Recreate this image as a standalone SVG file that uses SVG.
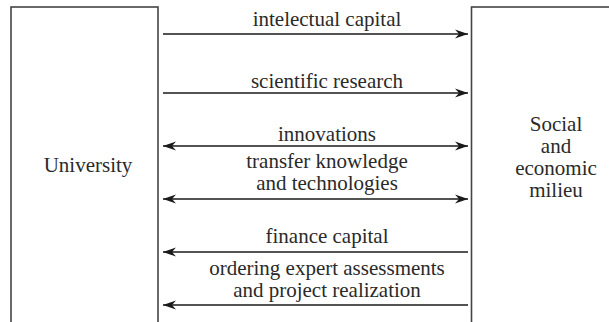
<svg xmlns="http://www.w3.org/2000/svg" width="609" height="322" viewBox="0 0 609 322">
<style>
.box{fill:#fff;stroke:#444;stroke-width:1.6}
.t{font-family:'Liberation Serif','DejaVu Serif','Times New Roman',serif;font-size:21px;fill:#2a2a2a;text-anchor:middle}
.c{stroke:#1a1a1a;stroke-width:1.3;fill:none}
</style>
<defs>
<marker id="ah" markerUnits="userSpaceOnUse" markerWidth="16" markerHeight="12" viewBox="-14 -6 16 12" refX="0" refY="0" orient="auto-start-reverse">
<path d="M0,0 L-13,-4.6 L-9,0 L-13,4.6 Z" fill="#1a1a1a"/>
</marker>
</defs>
<rect width="609" height="322" fill="#fff"/>
<g id="university">
<rect class="box" x="11" y="7" width="147" height="330"/>
<text class="t" x="88" y="172" font-family="Liberation Serif, serif">University</text>
</g>
<g id="milieu">
<rect class="box" x="471.5" y="7" width="200" height="330"/>
<text class="t" x="556" y="131">Social</text>
<text class="t" x="556" y="153">and</text>
<text class="t" x="556" y="175">economic</text>
<text class="t" x="556" y="197">milieu</text>
</g>
<g id="connectors">
<line class="c" x1="163" y1="34" x2="468" y2="34" marker-end="url(#ah)"/>
<line class="c" x1="163" y1="93" x2="468" y2="93" marker-end="url(#ah)"/>
<line class="c" x1="163" y1="146" x2="468" y2="146" marker-start="url(#ah)" marker-end="url(#ah)"/>
<line class="c" x1="163" y1="199" x2="468" y2="199" marker-start="url(#ah)" marker-end="url(#ah)"/>
<line class="c" x1="468" y1="252" x2="163" y2="252" marker-end="url(#ah)"/>
<line class="c" x1="468" y1="305" x2="163" y2="305" marker-end="url(#ah)"/>
<text class="t" x="327" y="26">intelectual capital</text>
<text class="t" x="327" y="88">scientific research</text>
<text class="t" x="327" y="141">innovations</text>
<text class="t" x="327" y="168">transfer knowledge</text>
<text class="t" x="327" y="190">and technologies</text>
<text class="t" x="327" y="243">finance capital</text>
<text class="t" x="327" y="275">ordering expert assessments</text>
<text class="t" x="327" y="297">and project realization</text>
</g>
</svg>
